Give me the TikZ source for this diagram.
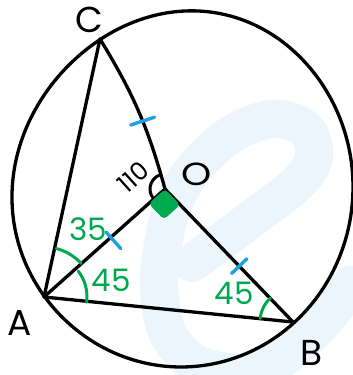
\documentclass[tikz,border=0pt]{standalone}
\usepackage{fontspec}
\setmainfont{Poppins}
\usetikzlibrary{calc}
\definecolor{mkgreen}{HTML}{00A84F}
\definecolor{mkblue}{HTML}{1DA1E2}
\definecolor{wmblue}{HTML}{EDF5FC}
\begin{document}
\begin{tikzpicture}[x=1pt,y=1pt,
  edge/.style={line width=3.3pt, line cap=round, line join=round},
  anglearc/.style={mkgreen, line width=3pt, line cap=round},
  blackarc/.style={line width=3pt, line cap=round},
  tickmark/.style={mkblue, line width=3.4pt, line cap=round},
  ptlabel/.style={inner sep=0pt, font=\fontsize{36}{36}\selectfont},
  numlabel/.style={inner sep=0pt, text=mkgreen, font=\fontsize{31}{31}\selectfont}]
\useasboundingbox (0,0) rectangle (353,375);
\fill[white] (0,0) rectangle (353,375);
% watermark
\draw[wmblue, line width=38pt, line cap=round] plot[smooth, tension=0.7] coordinates
  {(192,112) (250,155) (305,200) (312,235) (290,254) (255,252) (215,228) (180,185)
   (163,130) (160,75) (175,30) (215,5) (270,10) (320,50) (350,90)};
% points
\coordinate (A) at (44,78);
\coordinate (B) at (293,53);
\coordinate (C) at (100,336);
\coordinate (O) at (165,186);
% circle (hand-drawn, flattened at upper left)
\draw[edge] plot[domain=0:360, samples=145, smooth, variable=\t]
  ({181+172*(1-0.06*(max(0,cos(\t-133)))^3)*cos(\t)},
   {188+180*(1-0.06*(max(0,cos(\t-133)))^3)*sin(\t)}) -- cycle;
% segments
\draw[edge] (A) -- (C);
\draw[edge] (C) to[bend left=8] coordinate[pos=0.57] (mC) (O);
\draw[edge] (O) -- (A);
\draw[edge] (O) -- (B);
\draw[edge] (A) -- (B);
% right angle mark
\coordinate (qa) at ($(O)!22pt!(A)$);
\coordinate (qb) at ($(O)!22pt!(B)$);
\coordinate (qc) at ($(qa)+(qb)-(O)$);
\fill[mkgreen, rounded corners=4pt] (O) -- (qa) -- (qc) -- (qb) -- cycle;
% angle arcs
\draw[anglearc] ($(A)+(42:50)$) arc[start angle=42, end angle=76, radius=50];
\draw[anglearc] ($(A)+(-7:43)$) arc[start angle=-7, end angle=37, radius=43];
\draw[anglearc] ($(B)+(133:33)$) arc[start angle=133, end angle=174, radius=33];
\draw[blackarc] ($(O)+(112:15)$) arc[start angle=112, end angle=215, radius=15];
% equal-length ticks
\coordinate (mA) at ($(O)!0.448!(A)$);
\coordinate (mB) at ($(O)!0.58!(B)$);
\draw[tickmark] ($(mC)!12.5pt!90:(O)$) -- ($(mC)!12.5pt!-90:(O)$);
\draw[tickmark] ($(mA)!15pt!90:(A)$) -- ($(mA)!7pt!-90:(A)$);
\draw[tickmark] ($(mB)!10.5pt!90:(B)$) -- ($(mB)!10.5pt!-90:(B)$);
% labels
\node[ptlabel] (lC) at (89,355) {C};
\node[ptlabel] (lA) at (20,52) {A};
\node[ptlabel] (lB) at (312,22) {B};
\node[ptlabel, xscale=1.2, font=\fontsize{32}{32}\selectfont] (lO) at (197,201) {O};
\node[numlabel] (n35) at (88,146) {35};
\node[numlabel] (n45a) at (111,95) {45};
\node[numlabel] (n45b) at (234,82) {45};
\node[inner sep=0pt, rotate=42, font=\fontsize{25}{25}\selectfont] (n110) at (133,198) {110};
\end{tikzpicture}
\end{document}
